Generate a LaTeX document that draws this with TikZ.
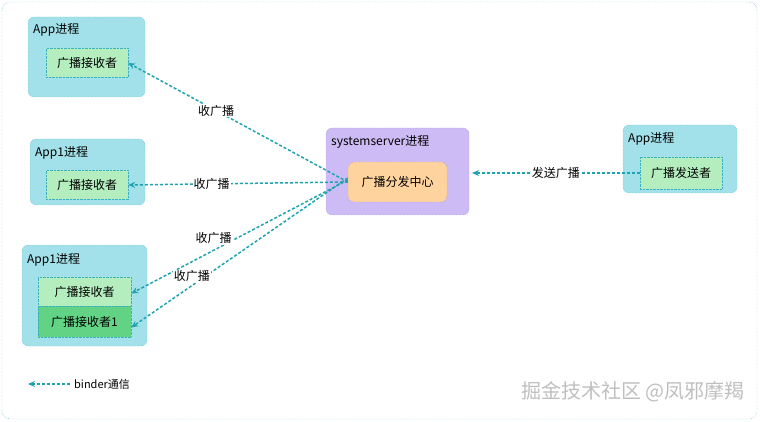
\documentclass[tikz,border=0pt]{standalone}
\usepackage{fontspec}
\setmainfont{Noto Sans CJK SC}
\usetikzlibrary{arrows.meta,positioning}
\definecolor{procfill}{HTML}{A2E1E9}
\definecolor{procline}{HTML}{3AAFBF}
\definecolor{recvfill}{HTML}{B4EEBE}
\definecolor{recvdark}{HTML}{62D384}
\definecolor{sysfill}{HTML}{CDBBF5}
\definecolor{sysline}{HTML}{8C7FD0}
\definecolor{dispfill}{HTML}{FFD39E}
\definecolor{binder}{HTML}{1FA3B0}
\tikzset{
  proc/.style={draw=procline, densely dotted, fill=procfill, rounded corners=6pt},
  inbox/.style={draw=procline, densely dotted, minimum height=29pt, inner sep=2pt, font=\fontsize{12}{14}\selectfont},
  title/.style={anchor=north west, inner sep=1pt, font=\fontsize{12}{14}\selectfont},
  binderarrow/.style={-{Stealth[length=7pt,width=6pt]}, binder, dashed, dash pattern=on 3pt off 2pt, line width=1.5pt},
  lbl/.style={fill=white, text=black, inner sep=1pt, font=\fontsize{12}{14}\selectfont}
}
\begin{document}
\begin{tikzpicture}[x=1pt,y=-1pt]
\useasboundingbox (0,0) rectangle (760,422);
\draw[procline, densely dotted, rounded corners=8pt] (2,2) rectangle (757,419);
% processes
\draw[proc] (28,17) rectangle (145,97);
\node[title] (t1) at (32,22) {App进程};
\node[inbox, fill=recvfill, minimum width=82pt] (r1) at (87,63) {广播接收者};
\draw[proc] (30,139) rectangle (145,205);
\node[title] (t2) at (34,145) {App1进程};
\node[inbox, fill=recvfill, minimum width=82pt] (r2) at (87,185) {广播接收者};
\draw[proc] (22,245) rectangle (147,346);
\node[title] (t3) at (26,252) {App1进程};
\node[inbox, fill=recvfill, minimum width=93pt] (r3) at (84.5,291.5) {广播接收者};
\node[inbox, fill=recvdark, minimum width=93pt, minimum height=31pt] (r4) at (84.5,321.5) {广播接收者1};
\draw[proc, fill=sysfill, draw=sysline] (326,128) rectangle (469,215);
\node[title] (t4) at (330,134) {systemserver进程};
\node[inbox, fill=dispfill, draw=sysline, rounded corners=6pt, minimum width=99pt, minimum height=40pt] (disp) at (397.5,182) {广播分发中心};
\draw[proc] (623,125) rectangle (737,193);
\node[title] (t5) at (627,131) {App进程};
\node[inbox, fill=recvfill, minimum width=82pt, minimum height=32pt] (send) at (681,173) {广播发送者};
% binder
\draw[binderarrow] (disp.west) -- node[lbl, pos=0.6] {收广播} (r1.east);
\draw[binderarrow] (disp.west) -- node[lbl, pos=0.62] {收广播} (r2.east);
\draw[binderarrow] ([yshift=2pt]disp.west) -- node[lbl, pos=0.62, above=5pt] {收广播} ([yshift=-2pt]r3.east);
\draw[binderarrow] ([yshift=4pt]disp.west) -- node[lbl, pos=0.72, above=2pt] {收广播} ([yshift=-6pt]r4.east);
\draw[binderarrow] (send.west) -- node[lbl] {发送广播} (472,173);
% legend
\coordinate (lg) at (70,384);
\draw[binderarrow] (lg) -- (28,384);
\node[right=3pt of lg, inner sep=1pt, font=\fontsize{11}{13}\selectfont] (lgt) {binder通信};
\node[anchor=east, text=black!25, font=\fontsize{20}{22}\selectfont] (wm) at (748,392) {掘金技术社区 @凤邪摩羯};
\end{tikzpicture}
\end{document}
